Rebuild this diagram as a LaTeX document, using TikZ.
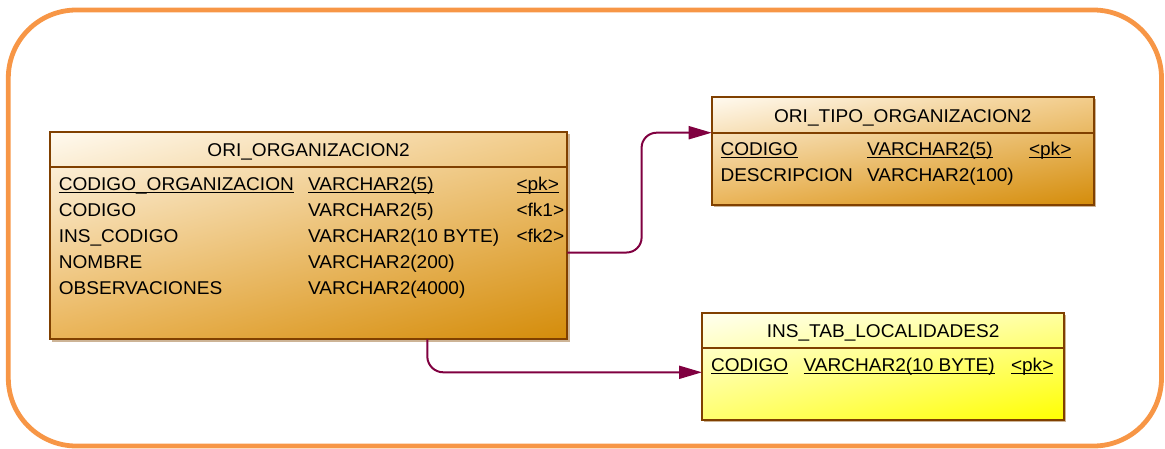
\documentclass[tikz,border=0pt]{standalone}
\usepackage{fontspec}
\setmainfont{Liberation Sans}[FakeStretch=1.03]
\usetikzlibrary{arrows.meta,shadings}
\definecolor{frameor}{RGB}{247,150,70}
\definecolor{boxline}{RGB}{128,64,0}
\definecolor{connc}{RGB}{128,0,64}
\definecolor{shadowc}{RGB}{205,180,150}
\definecolor{ogA}{RGB}{255,250,240}
\definecolor{ogB}{RGB}{242,204,138}
\definecolor{ogC}{RGB}{234,180,88}
\definecolor{ogD}{RGB}{212,140,10}
\definecolor{ylA}{RGB}{255,255,240}
\definecolor{ylB}{RGB}{255,255,160}
\definecolor{ylC}{RGB}{255,255,110}
\definecolor{ylD}{RGB}{255,255,0}
\newsavebox\ulbox
\newcommand\ulx[1]{\sbox\ulbox{#1}\rlap{\rule[-2.4pt]{\wd\ulbox}{1.2pt}}\usebox\ulbox}
\begin{document}
\begin{tikzpicture}[x=1pt,y=-1pt,
  entity/.style={draw=boxline, line width=2pt, inner sep=0pt, outer sep=0pt, anchor=north west,
    upper left=ogA, upper right=ogB, lower left=ogC, lower right=ogD},
  yentity/.style={entity, upper left=ylA, upper right=ylB, lower left=ylC, lower right=ylD},
  divider/.style={draw=boxline, line width=2pt},
  txt/.style={anchor=base west, inner sep=0pt, outer sep=0pt, font=\fontsize{18.5}{22}\selectfont},
  ttl/.style={txt, anchor=base},
  conn/.style={draw=connc, line width=2pt, rounded corners=15pt, -{Triangle[length=23pt,width=13pt]}}
]
\useasboundingbox (0,0) rectangle (1165,448);
\begin{scope}
\clip (0,0) rectangle (1165,448);
\draw[frameor, line width=4.8pt, rounded corners=68pt] (8.3,10) rectangle (1161.5,446);
\end{scope}

% shadows
\fill[shadowc] (52,133.7) rectangle (569.5,341.5);
\fill[shadowc] (713.7,99.3) rectangle (1096,207);
\fill[shadowc] (704,315.3) rectangle (1066.3,422);

% entity boxes
\node[entity, minimum width=517.3pt, minimum height=207.6pt] (org) at (50,131.7) {};
\node[entity, minimum width=382.3pt, minimum height=107.7pt] (tipo) at (711.7,97.3) {};
\node[yentity, minimum width=362.3pt, minimum height=106.7pt] (loc) at (702,313.3) {};

% header dividers
\coordinate (orgD) at (50,166.5);
\coordinate (orgDe) at (567.3,166.5);
\draw[divider] (orgD) -- (orgDe);
\coordinate (tipoD) at (711.7,132.7);
\coordinate (tipoDe) at (1094,132.7);
\draw[divider] (tipoD) -- (tipoDe);
\coordinate (locD) at (702,348.3);
\coordinate (locDe) at (1064.3,348.3);
\draw[divider] (locD) -- (locDe);

% ORI_ORGANIZACION2
\node[ttl] (orgT) at (308.6,156) {ORI\_ORGANIZACION2};
\node[txt] (o1a) at (58.8,190.5) {\ulx{CODIGO\_ORGANIZACION}};
\node[txt] (o1b) at (308,190.5) {\ulx{VARCHAR2(5)}};
\node[txt] (o1c) at (516.5,190.5) {\ulx{<pk>}};
\node[txt] (o2a) at (58.8,216.5) {CODIGO};
\node[txt] (o2b) at (308,216.5) {VARCHAR2(5)};
\node[txt] (o2c) at (516.5,216.5) {<fk1>};
\node[txt] (o3a) at (58.8,242.5) {INS\_CODIGO};
\node[txt] (o3b) at (308,242.5) {VARCHAR2(10 BYTE)};
\node[txt] (o3c) at (516.5,242.5) {<fk2>};
\node[txt] (o4a) at (58.8,268.5) {NOMBRE};
\node[txt] (o4b) at (308,268.5) {VARCHAR2(200)};
\node[txt] (o5a) at (58.8,294.5) {OBSERVACIONES};
\node[txt] (o5b) at (308,294.5) {VARCHAR2(4000)};

% ORI_TIPO_ORGANIZACION2
\node[ttl] (tipoT) at (902.8,122.3) {ORI\_TIPO\_ORGANIZACION2};
\node[txt] (t1a) at (720.5,155.7) {\ulx{CODIGO}};
\node[txt] (t1b) at (867,155.7) {\ulx{VARCHAR2(5)}};
\node[txt] (t1c) at (1029,155.7) {\ulx{<pk>}};
\node[txt] (t2a) at (720.5,181.7) {DESCRIPCION};
\node[txt] (t2b) at (867,181.7) {VARCHAR2(100)};

% INS_TAB_LOCALIDADES2
\node[ttl] (locT) at (883.1,337) {INS\_TAB\_LOCALIDADES2};
\node[txt] (l1a) at (711,371.7) {\ulx{CODIGO}};
\node[txt] (l1b) at (803.5,371.7) {\ulx{VARCHAR2(10 BYTE)}};
\node[txt] (l1c) at (1011,371.7) {\ulx{<pk>}};

% connectors
\coordinate (c1s) at (567.3,252.5);
\coordinate (c1a) at (641.6,252.5);
\coordinate (c1b) at (641.6,132.7);
\draw[conn] (c1s) -- (c1a) -- (c1b) -- (tipoD);
\coordinate (c2s) at (427.3,339.3);
\coordinate (c2a) at (427.3,372.3);
\coordinate (locA) at (702,372.3);
\draw[conn, rounded corners=16pt] (c2s) -- (c2a) -- (locA);
\end{tikzpicture}
\end{document}
